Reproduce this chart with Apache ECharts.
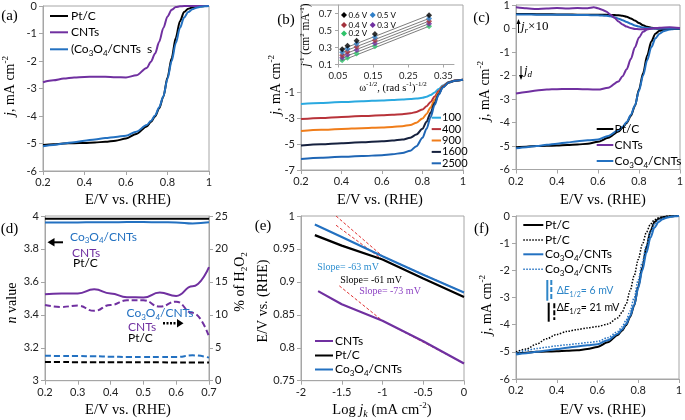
<!DOCTYPE html>
<html><head><meta charset="utf-8">
<script src="https://cdn.jsdelivr.net/npm/echarts@6/dist/echarts.min.js"></script>
<style>html,body{margin:0;padding:0;background:#fff}#c{width:685px;height:420px}</style>
</head><body><div id="c"></div>
<script>
// ---------- DATA ----------
// LSV potentials (panels a, c, f)
const E_lsv = [0.2,0.25,0.3,0.35,0.4,0.45,0.5,0.55,0.6,0.65,0.7,0.72,0.74,0.76,0.78,0.8,0.82,0.84,0.86,0.88,0.9,0.92,0.94,0.96,0.98,1.0];
const j_PtC = [-5.05,-5.03,-5.0,-4.99,-4.98,-4.96,-4.94,-4.9,-4.82,-4.65,-4.38,-4.22,-4.02,-3.72,-3.3,-2.6,-1.9,-1.15,-0.55,-0.22,-0.1,-0.05,-0.02,-0.01,0,0];
const j_Co  = [-5.1,-5.05,-5.0,-4.95,-4.9,-4.85,-4.8,-4.76,-4.72,-4.57,-4.33,-4.18,-3.98,-3.68,-3.28,-2.65,-2.0,-1.35,-0.8,-0.42,-0.22,-0.12,-0.06,-0.03,-0.01,0];
const j_CNT = [-2.77,-2.7,-2.64,-2.6,-2.58,-2.57,-2.57,-2.59,-2.6,-2.52,-2.25,-2.03,-1.73,-1.3,-0.8,-0.38,-0.14,-0.04,-0.01,0,0,0,0,0,0,0];
const j_PtC_aft = [-5.0,-4.9,-4.72,-4.52,-4.36,-4.25,-4.18,-4.12,-4.07,-3.98,-3.75,-3.55,-3.25,-2.75,-2.2,-1.6,-1.05,-0.6,-0.3,-0.14,-0.06,-0.03,-0.01,0,0,0];
const j_Co_aft  = [-5.05,-4.95,-4.88,-4.83,-4.78,-4.74,-4.7,-4.66,-4.62,-4.48,-4.25,-4.08,-3.85,-3.5,-3.0,-2.35,-1.7,-1.08,-0.6,-0.3,-0.15,-0.08,-0.04,-0.02,0,0];
// ring currents x10 (panel c)
const E_ring = [0.2,0.25,0.3,0.35,0.4,0.45,0.5,0.55,0.58,0.6,0.62,0.64,0.66,0.68,0.7,0.72,0.74,0.76,0.78,0.8,0.82,0.84,0.86,0.88,0.9,0.95,1.0];
const r_PtC = [0.62,0.62,0.61,0.61,0.6,0.6,0.59,0.59,0.58,0.58,0.58,0.58,0.57,0.57,0.56,0.54,0.5,0.43,0.34,0.23,0.14,0.07,0.03,0.01,0,0,0];
const r_Co  = [0.6,0.6,0.59,0.59,0.58,0.58,0.57,0.57,0.56,0.56,0.55,0.54,0.52,0.48,0.42,0.35,0.28,0.2,0.13,0.08,0.04,0.02,0.01,0,0,0,0];
const r_CNT = [0.9,0.86,0.83,0.85,0.87,0.85,0.87,0.86,0.9,0.86,0.8,0.72,0.6,0.46,0.3,0.17,0.08,0.02,-0.02,-0.03,-0.03,-0.02,0,0.02,0.03,0.05,0.02];
// panel b: rotation rates
const E_b = [0.2,0.3,0.4,0.5,0.6,0.65,0.7,0.74,0.77,0.8,0.82,0.84,0.86,0.88,0.9,0.93,0.96,1.0];
const rpm = ['100','400','900','1600','2500'];
const j_100  = [-1.88,-1.8,-1.73,-1.67,-1.6,-1.57,-1.53,-1.5,-1.46,-1.4,-1.32,-1.18,-0.98,-0.72,-0.45,-0.18,-0.06,0];
const j_400  = [-3.05,-2.96,-2.88,-2.82,-2.76,-2.72,-2.67,-2.6,-2.5,-2.3,-2.05,-1.72,-1.3,-0.88,-0.5,-0.2,-0.06,0];
const j_900  = [-3.97,-3.88,-3.82,-3.76,-3.7,-3.66,-3.6,-3.5,-3.33,-3.0,-2.65,-2.15,-1.55,-1.0,-0.55,-0.21,-0.07,0];
const j_1600 = [-5.1,-5.0,-4.92,-4.85,-4.77,-4.72,-4.64,-4.5,-4.25,-3.8,-3.25,-2.55,-1.8,-1.1,-0.58,-0.22,-0.07,0];
const j_2500 = [-6.14,-6.05,-5.98,-5.92,-5.85,-5.78,-5.68,-5.5,-5.15,-4.5,-3.8,-2.9,-1.95,-1.15,-0.6,-0.22,-0.07,0];
// panel b inset: K-L plots
const w_inv = [0.062,0.077,0.103,0.155,0.309];
const kl_06 = [0.28,0.32,0.38,0.46,0.68];
const kl_05 = [0.245,0.285,0.345,0.42,0.64];
const kl_04 = [0.21,0.25,0.31,0.385,0.61];
const kl_03 = [0.18,0.215,0.27,0.35,0.58];
const kl_02 = [0.15,0.18,0.23,0.315,0.55];
const fit_x  = [0.057,0.31];
const fit_06 = [0.272,0.682];
const fit_05 = [0.237,0.643];
const fit_04 = [0.203,0.612];
const fit_03 = [0.17,0.582];
const fit_02 = [0.138,0.552];
// panel d
const E_d = [0.2,0.25,0.3,0.35,0.4,0.45,0.5,0.55,0.6,0.65,0.7];
const n_PtC = [3.983,3.983,3.983,3.984,3.984,3.984,3.984,3.984,3.984,3.983,3.983];
const n_Co  = [3.96,3.96,3.961,3.962,3.962,3.963,3.963,3.962,3.961,3.955,3.962];
const n_CNT = [3.525,3.53,3.53,3.555,3.53,3.507,3.505,3.535,3.515,3.573,3.69];
const h_PtC = [2.85,2.85,2.8,2.8,2.8,2.8,2.8,2.8,2.75,2.75,2.75];
const h_Co  = [3.8,3.75,3.75,3.7,3.65,3.6,3.6,3.6,3.6,3.85,3.5];
const h_CNT = [11.5,11.2,11.4,10.6,11.5,12.2,12.2,11.25,12.0,10.3,6.7];
// panel e: Tafel
const lj_Co  = [-1.83,-1.5,-1.0,-0.5,0]; const t_Co  = [0.987,0.968,0.939,0.911,0.884];
const lj_PtC = [-1.83,-1.5,-1.0,-0.5,0]; const t_PtC = [0.971,0.955,0.934,0.905,0.877];
const lj_CNT = [-1.79,-1.5,-1.0,-0.5,0]; const t_CNT = [0.886,0.866,0.841,0.81,0.776];
const fx_Co  = [-1.57,-1.0,0]; const fy_Co  = [1.0,0.939,0.884];
const fx_PtC = [-1.57,-1.0,0]; const fy_PtC = [0.986,0.934,0.877];
const fx_CNT = [-1.53,-1.0,0]; const fy_CNT = [0.894,0.841,0.776];
// tick labels
const tk_E = [0.2,0.4,0.6,0.8,1];
const tk_a = [-6,-5,-4,-3,-2,-1,0];
const tk_b = [-7,-5,-3,-1];
const tk_c = [-6,-5,-4,-3,-2,-1,0,1];
const tk_inx = [0.05,0.15,0.25,0.35];
const tk_iny = [0.1,0.3,0.5,0.7];
const tk_dx = [0.2,0.3,0.4,0.5,0.6,0.7];
const tk_dn = [3,3.2,3.4,3.6,3.8,4];
const tk_dh = [0,5,10,15,20,25];
const tk_ex = [-2,-1.5,-1,-0.5,0];
const tk_ey = [0.75,0.8,0.85,0.9,0.95,1];

// ---------- STYLE ----------
const SANS = 'Lato, "Noto Sans", sans-serif';
const SERIF = '"Liberation Serif", "DejaVu Serif", serif';
const AX = '#a6a6a6';
const BLACK = '#000000', PURPLE = '#7030a0', BLUE = '#2371c1';
const C_B = ['#2aa9e0','#b8333a','#f07d1a','#16213e','#1f66b5'];
const C_IN = ['#000000','#2f7fc8','#a3323d','#7030a0','#2fc36a'];

const zip = (xs, ys) => xs.map((x, i) => [x, ys[i]]);

function xa(g, min, max, vals, o) {
  o = o || {};
  return { type:'value', gridIndex:g, min, max, position:'bottom',
    axisLine:{show:true, onZero:false, lineStyle:{color:AX, width:1}},
    axisTick:{show:true, length:o.tl||4, customValues:vals, lineStyle:{color:AX}},
    axisLabel:{customValues:vals, color:'#222', fontSize:o.fs||11, fontFamily:SANS, margin:o.m||6},
    splitLine:{show:false} };
}
function ya(g, min, max, vals, o) {
  o = o || {};
  return { type:'value', gridIndex:g, min, max, position:o.pos||'left',
    axisLine:{show:true, onZero:false, lineStyle:{color:AX, width:1}},
    axisTick:{show:true, length:o.tl||4, customValues:vals, lineStyle:{color:AX}},
    axisLabel:{customValues:vals, color:'#222', fontSize:o.fs||11, fontFamily:SANS, margin:o.m||6},
    splitLine:{show:false} };
}
function ls(xi, yi, data, color, o) {
  o = o || {};
  return { type:'line', xAxisIndex:xi, yAxisIndex:yi, data, symbol:'none', showSymbol:false,
    smooth:o.smooth===undefined?0.3:o.smooth, smoothMonotone:'x', z:o.z||2, silent:true,
    lineStyle:{color, width:o.w||2, type:o.type||'solid'}, animation:false };
}
function sc(xi, yi, data, color) {
  return { type:'scatter', xAxisIndex:xi, yAxisIndex:yi, data, symbol:'diamond', symbolSize:6,
    itemStyle:{color}, z:3, silent:true, animation:false };
}

// ---------- GRAPHIC HELPERS ----------
function rs(size, fam) {
  const s = Math.round(size*0.65);
  return {
    n:{fontFamily:fam, fontSize:size, lineHeight:size+4},
    i:{fontFamily:fam, fontSize:size, fontStyle:'italic', lineHeight:size+4},
    p:{fontFamily:fam, fontSize:s, verticalAlign:'top', lineHeight:s},
    b:{fontFamily:fam, fontSize:s, verticalAlign:'bottom', lineHeight:s},
    bi:{fontFamily:fam, fontSize:s+1, fontStyle:'italic', verticalAlign:'bottom', lineHeight:s}
  };
}
function txt(x, y, text, o) {
  o = o || {};
  const size = o.size || 12, fam = o.font || SANS;
  return { type:'text', x, y, rotation:o.rot||0, z:100, silent:true,
    style:{ text, fill:o.color||'#000', fontSize:size, fontFamily:fam,
      align:o.align||'left', verticalAlign:'middle', rich: rs(size, fam) } };
}
function ln(x1, y1, x2, y2, color, w, dash) {
  return { type:'line', z:100, silent:true, shape:{x1,y1,x2,y2},
    style:{stroke:color, lineWidth:w||1, lineDash:dash||null} };
}
function tri(pts, color) {
  return { type:'polygon', z:100, silent:true, shape:{points:pts}, style:{fill:color} };
}
const R = Math.PI/2; // rotate 90deg CCW
const CO = '{n|Co}{b|3}{n|O}{b|4}{n|/CNTs}';
const JT = '{i|j}{n|, mA cm}{p|-2}';
const EVT = 'E/V vs. (RHE)';

const graphics = [
  // panel labels
  txt(9.5,16,'(a)',{font:SERIF,size:15,align:'center'}),
  txt(286,20,'(b)',{font:SERIF,size:15,align:'center'}),
  txt(481.5,18,'(c)',{font:SERIF,size:15,align:'center'}),
  txt(9.5,229,'(d)',{font:SERIF,size:15,align:'center'}),
  txt(263,226,'(e)',{font:SERIF,size:15,align:'center'}),
  txt(481.5,229,'(f)',{font:SERIF,size:15,align:'center'}),
  // axis titles
  txt(10,86,JT,{font:SERIF,size:14,align:'center',rot:R}),
  txt(276,85,JT,{font:SERIF,size:14,align:'center',rot:R}),
  txt(485,91,JT,{font:SERIF,size:14,align:'center',rot:R}),
  txt(487,305,JT,{font:SERIF,size:14,align:'center',rot:R}),
  txt(12,303,'{i|n}{n| value}',{font:SERIF,size:14,align:'center',rot:R}),
  txt(263,301,EVT,{font:SERIF,size:14,align:'center',rot:R}),
  txt(240,282,'{n|% of H}{b|2}{n|O}{b|2}',{font:SERIF,size:14,align:'center',rot:R}),
  txt(128,200,EVT,{font:SERIF,size:14.5,align:'center'}),
  txt(380,200,EVT,{font:SERIF,size:14.5,align:'center'}),
  txt(603,200,EVT,{font:SERIF,size:14.5,align:'center'}),
  txt(128,410,EVT,{font:SERIF,size:14.5,align:'center'}),
  txt(603,410,EVT,{font:SERIF,size:14.5,align:'center'}),
  txt(382,410,'{n|Log }{i|j}{bi|k}{n| (mA cm}{p|-2}{n|)}',{font:SERIF,size:14.5,align:'center'}),
  // inset titles
  txt(306,35,'{i|j}{p|-1}{n| (cm}{p|2}{n| mA}{p|-1}{n|)}',{font:SERIF,size:11.5,align:'center',rot:R}),
  txt(393,88,'{n|ω}{p|-1/2}{n|, (rad s}{p|-1}{n|)}{p|-1/2}',{font:SERIF,size:10.5,align:'center'}),
  // legend a
  ln(50,16,68,16,BLACK,2), txt(71,16,'Pt/C'),
  ln(50,32.3,68,32.3,PURPLE,2), txt(71,32.3,'CNTs'),
  ln(50,49.3,68,49.3,BLUE,2), txt(71,49.3,'{n|(Co}{b|3}{n|O}{b|4}{n|/CNTs  s}'),
  // legend b
  ...rpm.map((r,i)=>[ln(431.7,117.7+i*11.4,441,117.7+i*11.4,C_B[i],2), txt(442,117.7+i*11.4,r,{size:11})]).flat(),
  // inset legend
  ...[['0.6 V',0,344,15],['0.5 V',1,372.7,15],['0.4 V',2,344,25],['0.3 V',3,372.7,25],['0.2 V',4,344,33.5]].map(d=>[
    tri([[d[2],d[3]-3],[d[2]+3,d[3]],[d[2],d[3]+3],[d[2]-3,d[3]]],C_IN[d[1]]),
    txt(d[2]+4.5,d[3],d[0],{size:8})]).flat(),
  // legend c
  ln(596.7,129,613.3,129,BLACK,2), txt(614.5,129,'Pt/C'),
  ln(596.7,145,613.3,145,PURPLE,2), txt(614.5,145,'CNTs'),
  ln(596.7,161,613.3,161,BLUE,2), txt(614.5,161,CO),
  // c annotations
  ln(518.5,33,518.5,21,BLACK,1), tri([[518.5,19],[516.5,24],[520.5,24]],BLACK),
  txt(521,27,'{i|j}{bi|r}{n|×10}',{font:SERIF,size:13}),
  ln(521,66,521,78,BLACK,1), tri([[521,80],[519,75],[523,75]],BLACK),
  txt(524,71,'{i|j}{bi|d}',{font:SERIF,size:13}),
  // d annotations
  ln(63,242.3,53,242.3,BLACK,2), tri([[47.5,242.3],[54.5,238],[54.5,246.6]],BLACK),
  txt(70,236.7,CO,{color:BLUE}),
  txt(72,252.7,'CNTs',{color:PURPLE}),
  txt(73,263.5,'Pt/C'),
  txt(126.5,313.3,CO,{color:BLUE}),
  txt(128,327.3,'CNTs',{color:PURPLE}),
  txt(128,338.5,'Pt/C'),
  ln(163,323.3,177,323.3,BLACK,2.5,[2,1.5]), tri([[183.5,323.3],[177,319],[177,327.6]],BLACK),
  // legend e
  ln(315,341,333,341,PURPLE,2), txt(335,341,'CNTs'),
  ln(315,355.5,333,355.5,BLACK,2), txt(335,355.5,'Pt/C'),
  ln(315,369.5,333,369.5,BLUE,2), txt(335,369.5,CO),
  // slope labels
  txt(348,267.3,'Slope= -63 mV',{font:SERIF,size:10,color:'#2e8fd0',align:'center'}),
  txt(371,280,'Slope= -61 mV',{font:SERIF,size:10,color:'#000',align:'center'}),
  txt(390,291.7,'Slope= -73 mV',{font:SERIF,size:10,color:'#8e44c4',align:'center'}),
  // legend f
  ln(523.3,225,543.3,225,BLACK,2), txt(545,225,'Pt/C'),
  ln(523.3,240,543.3,240,BLACK,1.5,[1.5,1.5]), txt(545,240,'Pt/C'),
  ln(523.3,254.3,543.3,254.3,BLUE,2), txt(545,254.3,CO),
  ln(523.3,269.3,543.3,269.3,BLUE,1.5,[1.5,1.5]), txt(545,269.3,CO),
  // f delta E
  ln(547.3,280,547.3,300.7,'#2e86c8',2), ln(551.3,280,551.3,300.7,'#2e86c8',2,[5,2]),
  txt(556.7,291,'{n|Δ}{i|E}{b|1/2}{n|= 6 mV}',{color:'#2e86c8',size:10.5}),
  ln(548.7,302.7,548.7,321.7,BLACK,2), ln(554.3,303.3,554.3,320,BLACK,2,[5,2]),
  txt(556.7,307.7,'{n|Δ}{i|E}{b|1/2}{n|= 21 mV}',{color:'#000',size:10.5})
];

const gridBase = {show:true, borderColor:AX, borderWidth:1, containLabel:false, outerBoundsMode:'none', backgroundColor:'transparent'};
const option = {
  animation:false,
  backgroundColor:'#fff',
  textStyle:{fontFamily:SANS},
  grid:[
    Object.assign({left:43, top:6, width:166, height:165}, gridBase),
    Object.assign({left:301, top:5, width:162, height:165}, gridBase),
    Object.assign({}, gridBase, {left:338, top:5, width:116, height:59.5, show:false}),
    Object.assign({left:516, top:5, width:164, height:164.5}, gridBase),
    Object.assign({left:45, top:216, width:164, height:164.7}, gridBase),
    Object.assign({left:301, top:216, width:163, height:164.7}, gridBase),
    Object.assign({left:516, top:216, width:163, height:163}, gridBase)
  ],
  xAxis:[
    xa(0,0.2,1,tk_E),
    xa(1,0.2,1,tk_E),
    xa(2,0.05,0.38,tk_inx,{fs:9.5,m:6,tl:3}),
    xa(3,0.2,1,tk_E),
    xa(4,0.2,0.7,tk_dx),
    xa(5,-2,0,tk_ex),
    xa(6,0.2,1,tk_E)
  ],
  yAxis:[
    ya(0,-6,0,tk_a),
    ya(1,-7,5.8,tk_b),
    ya(2,0.1,0.8,tk_iny,{fs:9.5,m:6,tl:3}),
    ya(3,-6,1,tk_c),
    ya(4,3,4,tk_dn),
    ya(4,0,25,tk_dh,{pos:'right'}),
    ya(5,0.75,1,tk_ey),
    ya(6,-6,0,tk_a)
  ],
  series:[
    // a
    ls(0,0,zip(E_lsv,j_PtC),BLACK),
    ls(0,0,zip(E_lsv,j_CNT),PURPLE),
    ls(0,0,zip(E_lsv,j_Co),BLUE),
    // b
    ls(1,1,zip(E_b,j_100),C_B[0]),
    ls(1,1,zip(E_b,j_400),C_B[1]),
    ls(1,1,zip(E_b,j_900),C_B[2]),
    ls(1,1,zip(E_b,j_1600),C_B[3]),
    ls(1,1,zip(E_b,j_2500),C_B[4]),
    // inset
    ls(2,2,zip(fit_x,fit_06),'#444',{w:0.7,smooth:false,z:1}),
    ls(2,2,zip(fit_x,fit_05),'#444',{w:0.7,smooth:false,z:1}),
    ls(2,2,zip(fit_x,fit_04),'#444',{w:0.7,smooth:false,z:1}),
    ls(2,2,zip(fit_x,fit_03),'#444',{w:0.7,smooth:false,z:1}),
    ls(2,2,zip(fit_x,fit_02),'#444',{w:0.7,smooth:false,z:1}),
    sc(2,2,zip(w_inv,kl_02),C_IN[4]),
    sc(2,2,zip(w_inv,kl_03),C_IN[3]),
    sc(2,2,zip(w_inv,kl_04),C_IN[2]),
    sc(2,2,zip(w_inv,kl_05),C_IN[1]),
    sc(2,2,zip(w_inv,kl_06),C_IN[0]),
    // c
    ls(3,3,zip(E_lsv,j_PtC),BLACK),
    ls(3,3,zip(E_lsv,j_CNT),PURPLE),
    ls(3,3,zip(E_lsv,j_Co),BLUE),
    ls(3,3,zip(E_ring,r_PtC),BLACK),
    ls(3,3,zip(E_ring,r_Co),BLUE),
    ls(3,3,zip(E_ring,r_CNT),PURPLE,{smooth:0.2}),
    // d
    ls(4,4,zip(E_d,n_PtC),BLACK,{smooth:0.5}),
    ls(4,4,zip(E_d,n_Co),BLUE,{smooth:0.5}),
    ls(4,4,zip(E_d,n_CNT),PURPLE,{smooth:0.5}),
    ls(4,5,zip(E_d,h_PtC),BLACK,{smooth:0.5,type:[6,3]}),
    ls(4,5,zip(E_d,h_Co),BLUE,{smooth:0.5,type:[6,3]}),
    ls(4,5,zip(E_d,h_CNT),PURPLE,{smooth:0.5,type:[6,3]}),
    // e
    ls(5,6,zip(fx_Co,fy_Co),'#e03030',{w:1,type:[3,2],smooth:false,z:1}),
    ls(5,6,zip(fx_PtC,fy_PtC),'#e03030',{w:1,type:[3,2],smooth:false,z:1}),
    ls(5,6,zip(fx_CNT,fy_CNT),'#e03030',{w:1,type:[3,2],smooth:false,z:1}),
    ls(5,6,zip(lj_CNT,t_CNT),PURPLE,{w:2.2,smooth:false}),
    ls(5,6,zip(lj_PtC,t_PtC),BLACK,{w:2.2,smooth:false}),
    ls(5,6,zip(lj_Co,t_Co),BLUE,{w:2.2,smooth:false}),
    // f
    ls(6,7,zip(E_lsv,j_PtC),BLACK),
    ls(6,7,zip(E_lsv,j_PtC_aft),BLACK,{w:1.5,type:[1.5,1.5]}),
    ls(6,7,zip(E_lsv,j_Co),BLUE),
    ls(6,7,zip(E_lsv,j_Co_aft),BLUE,{w:1.5,type:[1.5,1.5]})
  ],
  graphic:{elements:graphics}
};
const chart = echarts.init(document.getElementById('c'), null, {renderer:'canvas'});
chart.setOption(option);
</script></body></html>
